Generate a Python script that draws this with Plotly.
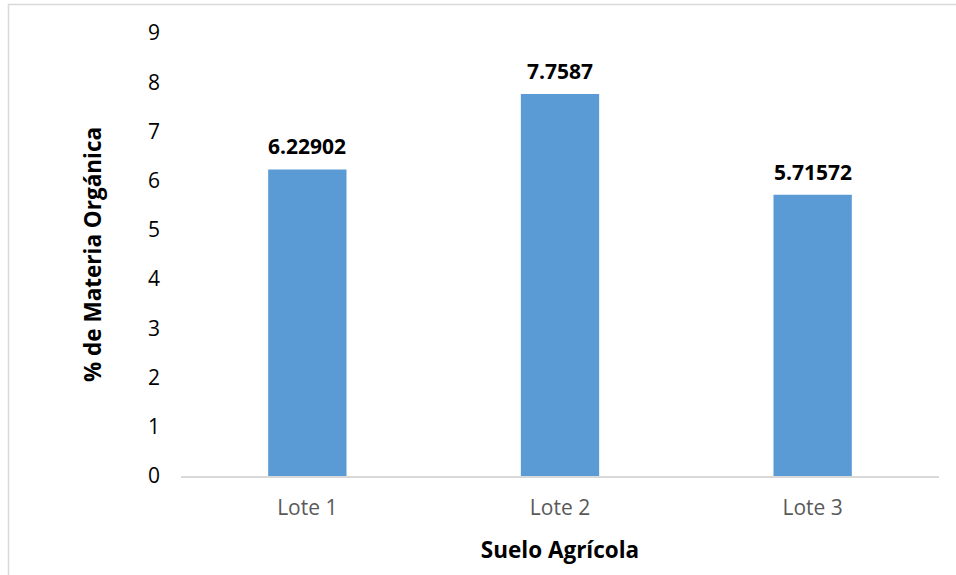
import plotly.graph_objects as go

categories = ["Lote 1", "Lote 2", "Lote 3"]
values = [6.22902, 7.7587, 5.71572]
y_ticks = list(range(0, 10))

bar_color = "#5B9BD5"
font_family = "Open Sans, Calibri, sans-serif"

fig = go.Figure()
fig.add_trace(go.Bar(
    x=categories, y=values,
    marker=dict(color=bar_color, line=dict(width=0)),
    width=0.31,
    hoverinfo="x+y",
))

for c, v in zip(categories, values):
    fig.add_annotation(
        x=c, y=v, text=f"<b>{v}</b>", showarrow=False,
        yanchor="bottom", yshift=7,
        font=dict(family=font_family, size=21, color="#000000"),
    )

fig.add_shape(
    type="rect", xref="paper", yref="paper",
    x0=-0.2276, x1=1.2, y0=-0.4, y1=1.0643,
    line=dict(color="#D9D9D9", width=1.5), fillcolor="rgba(0,0,0,0)",
    layer="below",
)

fig.update_layout(
    width=956, height=575,
    margin=dict(l=181, r=17, t=33, b=99, autoexpand=False),
    paper_bgcolor="white", plot_bgcolor="white",
    showlegend=False,
    font=dict(family=font_family, size=21, color="#000000"),
    xaxis=dict(
        showline=True, linecolor="#D9D9D9", linewidth=2,
        showgrid=False, zeroline=False,
        tickfont=dict(family=font_family, size=21, color="#595959"),
        ticks="", ticklabelstandoff=12,
        title=dict(text="<b>Suelo Agrícola</b>", standoff=22,
                   font=dict(family=font_family, size=22.5, color="#000000")),
        automargin=False,
    ),
    yaxis=dict(
        range=[0, 9], tickvals=y_ticks,
        showline=False, showgrid=False, zeroline=False,
        tickfont=dict(family=font_family, size=21, color="#000000"),
        ticks="", ticklabelstandoff=20,
        title=dict(text="<b>% de Materia Orgánica</b>", standoff=40,
                   font=dict(family=font_family, size=22.5, color="#000000")),
        automargin=False,
    ),
    bargap=0.69,
)

fig.write_html(
    "out.html",
    config={"displayModeBar": False},
    post_script="document.body.style.margin='0';document.body.style.overflow='hidden';",
)
